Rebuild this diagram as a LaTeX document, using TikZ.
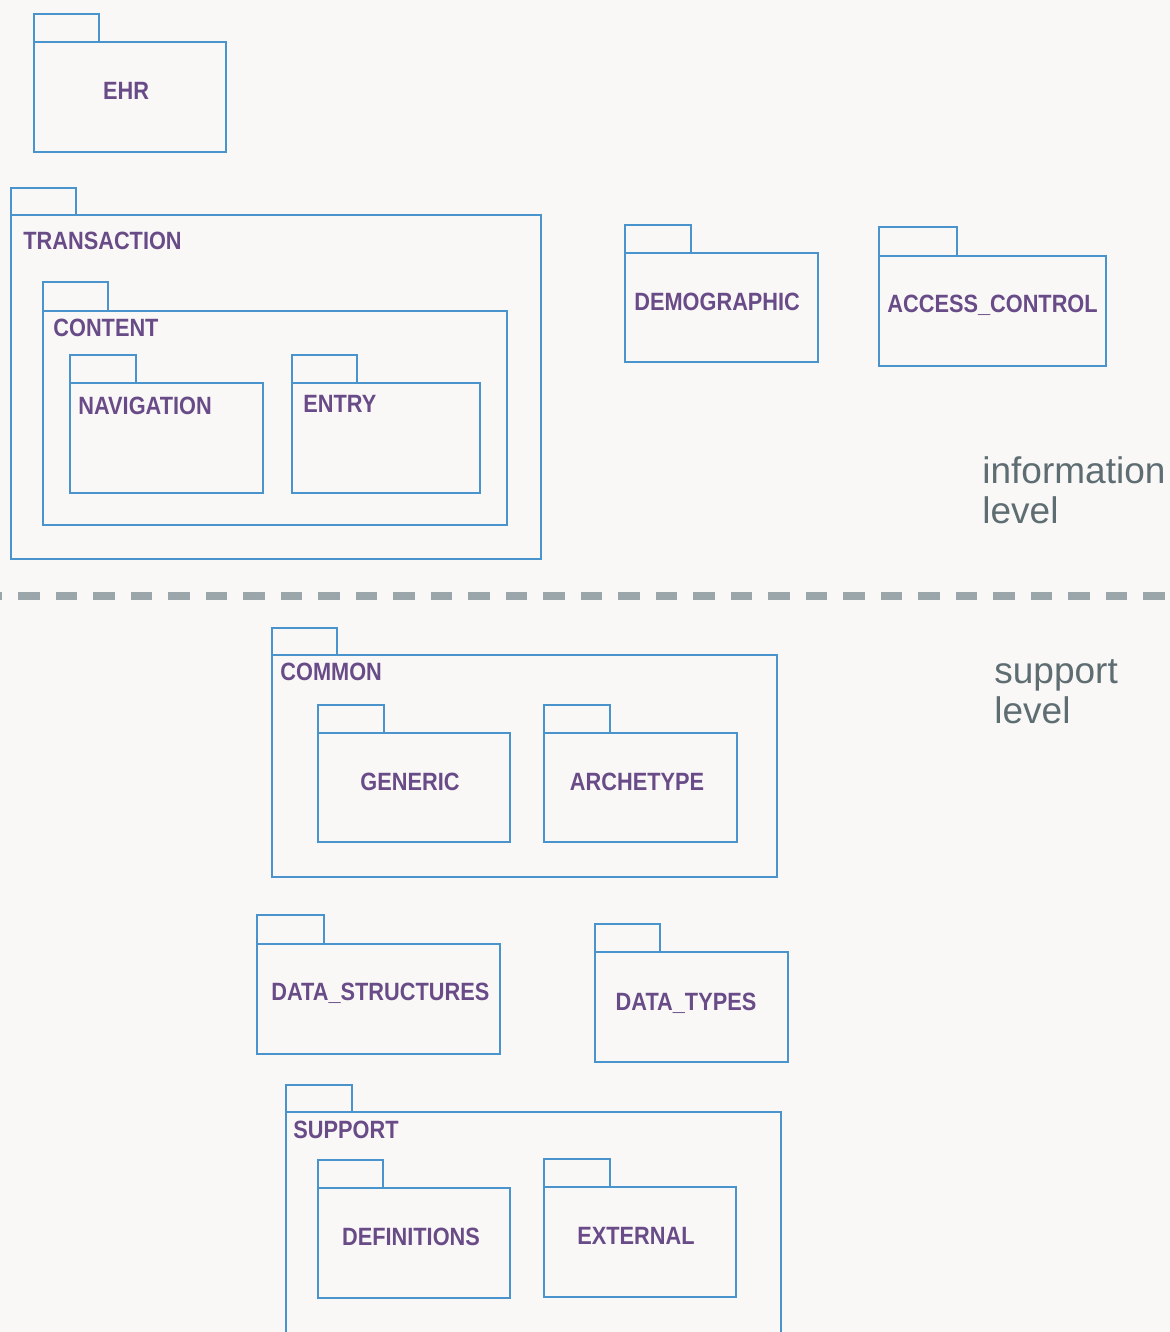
\documentclass[tikz,border=0pt]{standalone}
\usepackage{fontspec}
\setmainfont{Liberation Sans}
\newfontfamily\pkgfont[FakeStretch=0.87]{Liberation Sans}
\usetikzlibrary{positioning}
\definecolor{pkgblue}{HTML}{4A94CE}
\definecolor{pkgtext}{HTML}{694C87}
\definecolor{levelgrey}{HTML}{5E6D72}
\definecolor{sepgrey}{HTML}{9BA6AA}
\definecolor{paper}{HTML}{F9F8F7}
% package frame: tab from (#1,#2) to (#3,#4), body from (#1,#4) to (#5,#6)
\newcommand{\pkgframe}[6]{%
  \draw[pkgline] (#1,#2) rectangle (#3,#4);
  \draw[pkgline] (#1,#4) rectangle (#5,#6);}

\begin{document}
\begin{tikzpicture}[x=0.5pt, y=-0.5pt,
  pkgline/.style={draw=pkgblue, line width=1pt},
  pkgname/.style={text=pkgtext, inner sep=0pt, text depth=0pt, font=\pkgfont\bfseries\fontsize{12.5}{14}\selectfont},
  pkgcorner/.style={pkgname, anchor=west},
  levelname/.style={text=levelgrey, inner sep=0pt, align=left, anchor=north west, font=\fontsize{18.5}{20}\selectfont},
  sepline/.style={draw=sepgrey, line width=4pt, dash pattern=on 10.75pt off 8pt}]
\useasboundingbox[fill=paper] (0,0) rectangle (1170,1332);

% information level
\pkgframe{34}{14}{99}{42}{226}{152}
\node[pkgname] (ehr) at (126,91) {EHR};
\pkgframe{11}{188}{76}{215}{541}{559}
\node[pkgcorner] (transaction) at (23,241) {TRANSACTION};
\pkgframe{43}{282}{108}{311}{507}{525}
\node[pkgcorner] (content) at (53,328) {CONTENT};
\pkgframe{70}{355}{136}{383}{263}{493}
\node[pkgcorner] (navigation) at (78,406) {NAVIGATION};
\pkgframe{292}{355}{357}{383}{480}{493}
\node[pkgcorner] (entry) at (303,404) {ENTRY};
\pkgframe{625}{225}{691}{253}{818}{362}
\node[pkgcorner] (demographic) at (634,302) {DEMOGRAPHIC};
\pkgframe{879}{227}{957}{256}{1106}{366}
\node[pkgcorner] (access) at (887,304) {ACCESS\_CONTROL};
\node[levelname] (infolevel) at (982,456) {information\\level};

% separator
\coordinate (sepleft) at (-19.5,596);
\coordinate (sepright) at (1170,596);
\draw[sepline] (sepleft) -- (sepright);

% support level
\node[levelname] (suplevel) at (994,659) {support\\level};
\pkgframe{272}{628}{337}{655}{777}{877}
\node[pkgcorner] (common) at (280,672) {COMMON};
\pkgframe{318}{705}{384}{733}{510}{842}
\node[pkgname] (generic) at (410,782) {GENERIC};
\pkgframe{544}{705}{610}{733}{737}{842}
\node[pkgname] (archetype) at (637,782) {ARCHETYPE};
\pkgframe{257}{915}{324}{944}{500}{1054}
\node[pkgcorner] (datastruct) at (271,992) {DATA\_STRUCTURES};
\pkgframe{595}{924}{660}{952}{788}{1062}
\node[pkgname] (datatypes) at (686,1002) {DATA\_TYPES};
\pkgframe{286}{1085}{352}{1112}{781}{1345}
\node[pkgcorner] (support) at (293,1130) {SUPPORT};
\pkgframe{318}{1160}{383}{1188}{510}{1298}
\node[pkgname] (definitions) at (411,1237) {DEFINITIONS};
\pkgframe{544}{1159}{610}{1187}{736}{1297}
\node[pkgname] (external) at (636,1236) {EXTERNAL};
\end{tikzpicture}
\end{document}
